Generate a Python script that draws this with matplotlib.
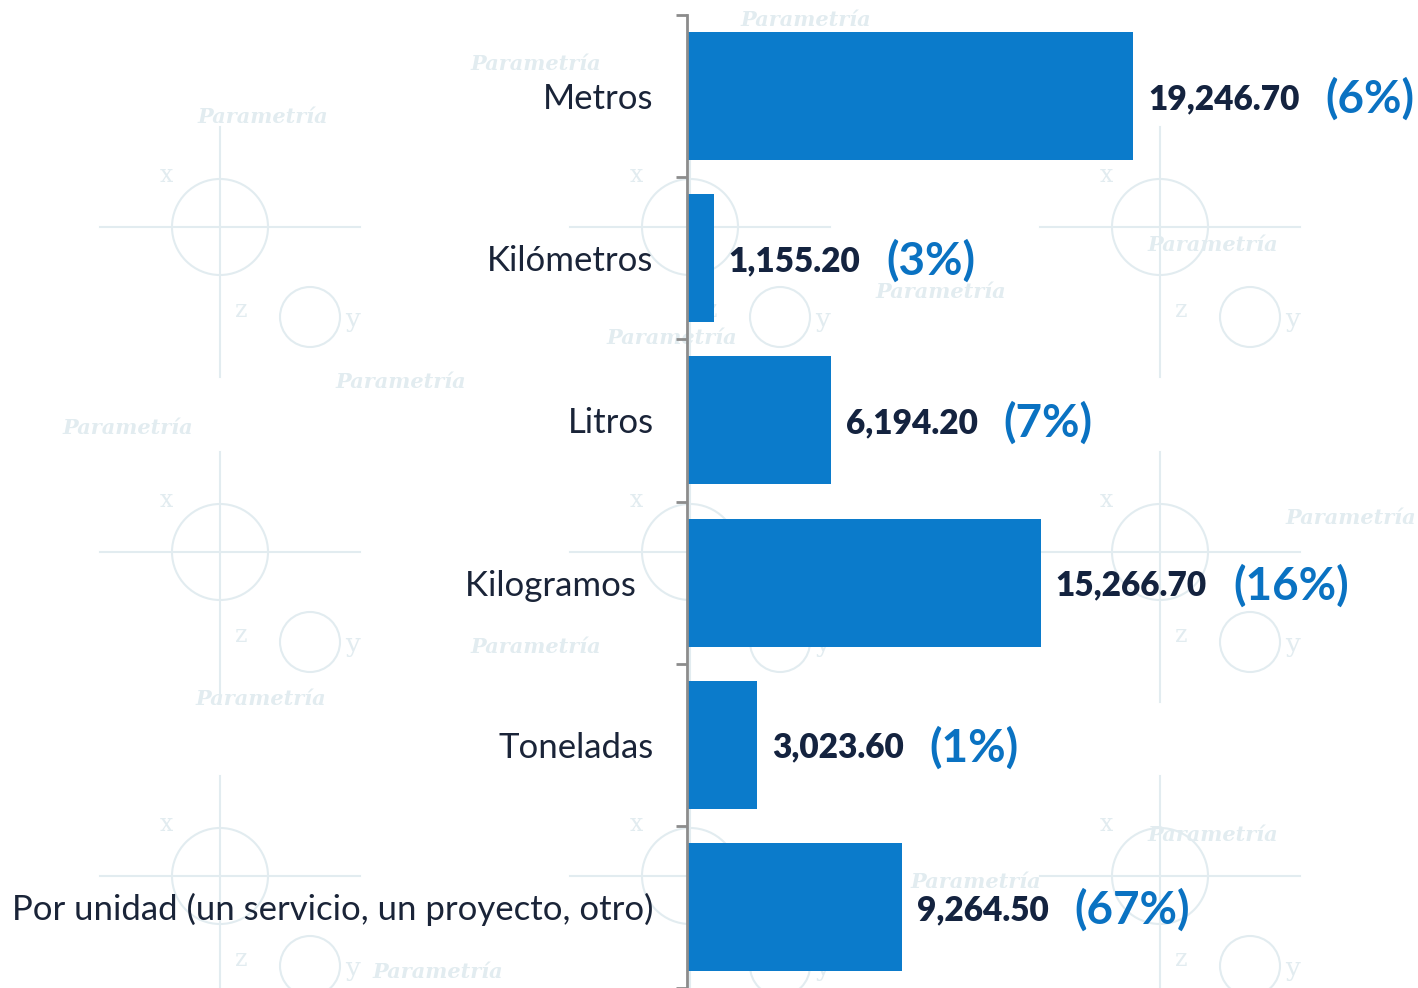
import matplotlib
matplotlib.use("Agg")
import matplotlib.pyplot as plt
from matplotlib.patches import Circle

# datos del gráfico (orden de arriba hacia abajo)
categorias = ["Metros", "Kilómetros", "Litros", "Kilogramos  ", "Toneladas",
              "Por unidad (un servicio, un proyecto, otro)"]
valores = [19246.70, 1155.20, 6194.20, 15266.70, 3023.60, 9264.50]
porcentajes = ["(6%)", "(3%)", "(7%)", "(16%)", "(1%)", "(67%)"]

BAR_COLOR = "#0b7bcb"
PCT_COLOR = "#0a72c2"
VAL_COLOR = "#14233f"
WM_COLOR = "#e2ecf0"

plt.rcParams["font.family"] = ["Lato", "DejaVu Sans"]

fig = plt.figure(figsize=(14.18, 9.88), dpi=100)
fig.patch.set_facecolor("white")

# fondo decorativo tipo marca de agua
bg = fig.add_axes([0, 0, 1, 1], zorder=0)
bg.set_xlim(0, 1418)
bg.set_ylim(988, 0)
bg.axis("off")
for ty in [37, 362, 686]:
    for tx in [20, 490, 960]:
        bg.add_patch(Circle((tx + 200, ty + 190), 48, fill=False, ec=WM_COLOR, lw=1.5))
        bg.add_patch(Circle((tx + 290, ty + 280), 30, fill=False, ec=WM_COLOR, lw=1.5))
        bg.plot([tx + 80, tx + 340], [ty + 190, ty + 190], color=WM_COLOR, lw=1.5)
        bg.plot([tx + 200, tx + 200], [ty + 90, ty + 340], color=WM_COLOR, lw=1.5)
        bg.text(tx + 140, ty + 145, "x", color=WM_COLOR, fontsize=17, family="DejaVu Serif")
        bg.text(tx + 215, ty + 280, "z", color=WM_COLOR, fontsize=17, family="DejaVu Serif")
        bg.text(tx + 325, ty + 290, "y", color=WM_COLOR, fontsize=19, family="DejaVu Serif")
for wx, wy in [(470, 70), (197, 123), (740, 26), (1147, 251), (875, 298), (606, 344),
               (335, 388), (62, 434), (1285, 524), (470, 653), (195, 705), (1147, 841),
               (910, 888), (372, 978)]:
    bg.text(wx, wy, "Parametría", color=WM_COLOR, fontsize=15, style="italic",
            family="DejaVu Serif", fontweight="bold")

ax = fig.add_axes([687 / 1418, 0, 1 - 687 / 1418, 1 - 15 / 988], zorder=1)
ax.patch.set_alpha(0)

pos = list(range(len(categorias)))
ax.barh(pos, valores, height=0.79, color=BAR_COLOR)
ax.set_ylim(len(categorias) - 0.5, -0.5)
ax.set_xlim(0, 31545)

ax.set_yticks(pos)
ax.set_yticklabels(categorias, fontsize=25, color="#1a2438")
ax.tick_params(axis="y", which="major", length=0, pad=24)
ax.set_yticks([p - 0.5 for p in range(len(categorias) + 1)], minor=True)
ax.tick_params(axis="y", which="minor", length=8, width=2, color="#8c8c8c", direction="out")
ax.set_xticks([])

for s in ["top", "right", "bottom"]:
    ax.spines[s].set_visible(False)
ax.spines["left"].set_color("#8c8c8c")
ax.spines["left"].set_linewidth(2)

for p, v, pc in zip(pos, valores, porcentajes):
    t = ax.annotate(f"{v:,.2f}", xy=(v, p), xytext=(15, 0), textcoords="offset pixels",
                    va="center_baseline", ha="left", fontsize=24, fontweight="heavy",
                    color=VAL_COLOR)
    ax.annotate(pc, xy=(1, 0.5), xycoords=t, xytext=(26, 0), textcoords="offset pixels",
                va="center", ha="left", fontsize=33, fontweight="bold", color=PCT_COLOR)

fig.savefig("out.png", dpi=100)
